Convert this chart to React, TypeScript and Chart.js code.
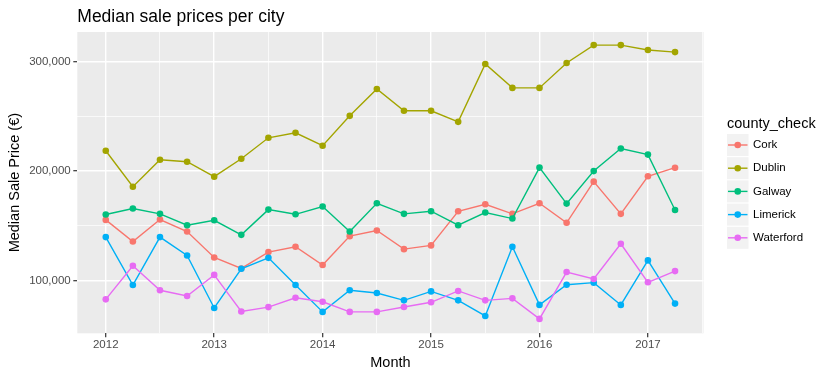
import React, { useEffect, useRef } from 'react';
import { Chart, registerables } from 'chart.js';

Chart.register(...registerables);

// ---- data ----
const quarters = [
  2012, 2012.25, 2012.5, 2012.75, 2013, 2013.25, 2013.5, 2013.75, 2014, 2014.25, 2014.5,
  2014.75, 2015, 2015.25, 2015.5, 2015.75, 2016, 2016.25, 2016.5, 2016.75, 2017, 2017.25,
];
const cork = [
  155400, 135600, 155700, 144700, 121000, 110900, 125900, 130800, 114000, 140500, 145700,
  128600, 132000, 163300, 169700, 160900, 170600, 152700, 190400, 160900, 195300, 203200,
];
const dublin = [
  218700, 185800, 210500, 208700, 195000, 211400, 230600, 235200, 223300, 250700, 275300,
  255300, 255300, 245200, 298200, 276300, 276300, 299100, 315500, 315500, 311000, 309100,
];
const galway = [
  160300, 165800, 160900, 150500, 155000, 141700, 164800, 160500, 167600, 144700, 170600,
  160900, 163300, 150500, 162100, 156600, 203300, 170300, 200100, 220800, 215200, 164500,
];
const limerick = [
  139600, 95700, 139600, 122800, 74700, 110600, 120600, 95700, 71100, 90900, 88400,
  81700, 89900, 81700, 67400, 130800, 77500, 96000, 97900, 77500, 118300, 78700,
];
const waterford = [
  82600, 113400, 90900, 85700, 105000, 71500, 75500, 84000, 80400, 71100, 71100,
  75600, 79900, 90300, 81700, 83500, 64700, 107600, 101300, 133500, 98200, 108500,
];
const seriesNames = ['Cork', 'Dublin', 'Galway', 'Limerick', 'Waterford'];
const seriesValues = [cork, dublin, galway, limerick, waterford];
const seriesColors = ['#F8766D', '#A3A500', '#00BF7D', '#00B0F6', '#E76BF3'];

const xMajorTicks = [2012, 2013, 2014, 2015, 2016, 2017];
const xMinorTicks = [2012.5, 2013.5, 2014.5, 2015.5, 2016.5, 2017.5];
const yMajorTicks = [100000, 200000, 300000];
const yMinorTicks = [150000, 250000];

const chartTitle = 'Median sale prices per city';
const xTitle = 'Month';
const yTitle = 'Median Sale Price (€)';
const legendTitle = 'county_check';

const FONT = '"Liberation Sans", Arial, Helvetica, sans-serif';

const panelBackground = {
  id: 'panelBackground',
  beforeDraw(chart: any) {
    const { ctx, chartArea: a } = chart;
    ctx.save();
    ctx.fillStyle = '#EBEBEB';
    ctx.fillRect(a.left, a.top, a.right - a.left, a.bottom - a.top);
    ctx.restore();
  },
};

const titleAndLegend = {
  id: 'titleAndLegend',
  afterDraw(chart: any) {
    const { ctx, chartArea: a } = chart;
    ctx.save();
    // plot title
    ctx.fillStyle = '#000000';
    ctx.font = `17.5px ${FONT}`;
    ctx.textAlign = 'left';
    ctx.textBaseline = 'alphabetic';
    ctx.fillText(chartTitle, a.left, 21.7);

    // legend
    const lx = a.right + 23.5;
    ctx.font = `14.5px ${FONT}`;
    ctx.fillText(legendTitle, lx, 127.7);
    const keyW = 21.5;
    const keyH = 22;
    const step = 23.2;
    const firstCenter = 145;
    seriesNames.forEach((name, i) => {
      const cy = firstCenter + i * step;
      ctx.fillStyle = '#F2F2F2';
      ctx.fillRect(lx, cy - keyH / 2, keyW, keyH);
      ctx.strokeStyle = seriesColors[i];
      ctx.lineWidth = 1.4;
      ctx.beginPath();
      ctx.moveTo(lx + 1, cy);
      ctx.lineTo(lx + keyW - 1, cy);
      ctx.stroke();
      ctx.fillStyle = seriesColors[i];
      ctx.beginPath();
      ctx.arc(lx + keyW / 2, cy, 3.3, 0, Math.PI * 2);
      ctx.fill();
      ctx.fillStyle = '#000000';
      ctx.font = `11.5px ${FONT}`;
      ctx.textBaseline = 'middle';
      ctx.fillText(name, lx + 26, cy);
      ctx.textBaseline = 'alphabetic';
    });
    ctx.restore();
  },
};

const isMajor = (v: number, majors: number[]) => majors.some((m) => Math.abs(m - v) < 1e-6);

export default function App() {
  const canvasRef = useRef<HTMLCanvasElement | null>(null);

  useEffect(() => {
    document.body.style.margin = '0';
    const canvas = canvasRef.current;
    if (!canvas) return;
    Chart.defaults.font.family = FONT;

    const datasets = seriesNames.map((name, i) => ({
      label: name,
      data: seriesValues[i].map((v, j) => ({ x: quarters[j], y: v })),
      borderColor: seriesColors[i],
      backgroundColor: seriesColors[i],
      pointBackgroundColor: seriesColors[i],
      pointBorderWidth: 0,
      pointRadius: 3.3,
      borderWidth: 1.4,
      tension: 0,
      fill: false,
      order: seriesNames.length - i,
    }));

    const chart = new Chart(canvas, {
      type: 'line',
      data: { datasets },
      plugins: [panelBackground, titleAndLegend],
      options: {
        animation: false,
        responsive: false,
        events: [],
        layout: { padding: { top: 32, right: 127.5, left: 0, bottom: 0 } },
        plugins: {
          legend: { display: false },
          tooltip: { enabled: false },
          title: { display: false },
        },
        scales: {
          x: {
            type: 'linear',
            min: 2011.7375,
            max: 2017.5125,
            bounds: 'data',
            afterBuildTicks: (scale: any) => {
              scale.ticks = [...xMajorTicks, ...xMinorTicks]
                .sort((p, q) => p - q)
                .map((v) => ({ value: v }));
            },
            afterFit: (scale: any) => {
              scale.height = 40.7;
            },
            border: { display: false },
            grid: {
              color: '#FFFFFF',
              lineWidth: (c: any) => (isMajor(c.tick.value, xMajorTicks) ? 1.4 : 0.7),
              tickColor: (c: any) => (isMajor(c.tick.value, xMajorTicks) ? '#333333' : 'rgba(0,0,0,0)'),
              tickWidth: 1.2,
              tickLength: 4,
              drawTicks: true,
            },
            ticks: {
              autoSkip: false,
              maxRotation: 0,
              minRotation: 0,
              padding: 1,
              color: '#4D4D4D',
              font: { size: 11.5, family: FONT },
              callback: (v: any) => (isMajor(Number(v), xMajorTicks) ? String(Math.round(Number(v))) : ''),
            },
            title: {
              display: true,
              text: xTitle,
              color: '#000000',
              font: { size: 14.5, family: FONT },
              padding: { top: 0, bottom: 2.3 },
            },
          },
          y: {
            type: 'linear',
            min: 51500,
            max: 327500,
            bounds: 'data',
            afterBuildTicks: (scale: any) => {
              scale.ticks = [...yMajorTicks, ...yMinorTicks]
                .sort((p, q) => p - q)
                .map((v) => ({ value: v }));
            },
            afterFit: (scale: any) => {
              scale.width = 77.3;
            },
            border: { display: false },
            grid: {
              color: '#FFFFFF',
              lineWidth: (c: any) => (isMajor(c.tick.value, yMajorTicks) ? 1.4 : 0.7),
              tickColor: (c: any) => (isMajor(c.tick.value, yMajorTicks) ? '#333333' : 'rgba(0,0,0,0)'),
              tickWidth: 1.2,
              tickLength: 4,
              drawTicks: true,
            },
            ticks: {
              autoSkip: false,
              padding: 2.6,
              color: '#4D4D4D',
              font: { size: 11.5, family: FONT },
              callback: (v: any) =>
                isMajor(Number(v), yMajorTicks) ? Number(v).toLocaleString('en-US') : '',
            },
            title: {
              display: true,
              text: yTitle,
              color: '#000000',
              font: { size: 14.5, family: FONT },
              padding: { top: 6, bottom: 0 },
            },
          },
        },
      },
    });

    return () => {
      chart.destroy();
    };
  }, []);

  return (
    <div style={{ width: 831, height: 374, position: 'relative', background: '#FFFFFF' }}>
      <canvas ref={canvasRef} width={831} height={374} style={{ display: 'block', width: 831, height: 374 }} />
    </div>
  );
}
